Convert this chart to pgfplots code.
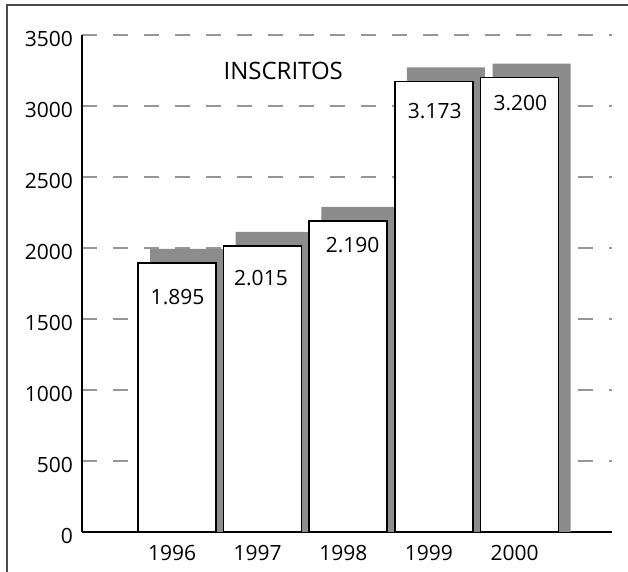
\documentclass[border=0pt]{standalone}
\usepackage{pgfplots}
\pgfplotsset{compat=1.18}
\usepackage{fontspec}
\setmainfont{Open Sans}
\definecolor{shadowgray}{RGB}{140,140,140}
\definecolor{gridgray}{RGB}{150,150,150}
\begin{document}
\begin{tikzpicture}
\useasboundingbox (-41pt,-20pt) rectangle (273pt,266pt);
\draw[line width=0.8pt, gray!60!black] (-37.5pt,-25pt) -- (-37.5pt,263.5pt) -- (280pt,263.5pt);
\begin{axis}[
 at={(0pt,0pt)}, anchor=south west,
 scale only axis, width=265pt, height=248.5pt,
 xmin=-1.11, xmax=5.08, ymin=0, ymax=3500,
 axis x line=bottom, axis y line=left,
 axis line style={-, line width=1pt, black},
 xtick={0,1,2,3,4}, xticklabels={1996,1997,1998,1999,2000},
 ytick={0,500,...,3500},
 major tick length=0pt,
 ymajorgrids, major grid style={gridgray, line width=1pt, dash pattern=on 7.5pt off 8pt},
 /pgf/number format/assume math mode=true,
 /pgf/number format/1000 sep={},
 ticklabel style={font=\fontsize{10.5}{12}\selectfont},
 xticklabel style={xshift=-2.5pt, yshift=-3pt},
 yticklabel style={yshift=-2pt, xshift=-1pt},
 ybar, bar width=39pt,
]
\addplot[fill=shadowgray, draw=none, bar shift=6pt] coordinates {(0,1994) (1,2114) (2,2289) (3,3272) (4,3299)};
\addplot[fill=white, draw=black, line width=0.8pt, bar shift=0pt] coordinates {(0,1895) (1,2015) (2,2190) (3,3173) (4,3200)};
\node[font=\fontsize{10.5}{12}\selectfont] at (axis cs:0.006,1655) {1.895};
\node[font=\fontsize{10.5}{12}\selectfont] at (axis cs:0.98,1789) {2.015};
\node[font=\fontsize{10.5}{12}\selectfont] at (axis cs:2.05,2021) {2.190};
\node[font=\fontsize{10.5}{12}\selectfont] at (axis cs:3.01,2965) {3.173};
\node[font=\fontsize{10.5}{12}\selectfont] at (axis cs:4.01,3021) {3.200};
\node[font=\fontsize{12}{14}\selectfont] at (axis cs:1.24,3246) {INSCRITOS};
\end{axis}
\end{tikzpicture}
\end{document}
